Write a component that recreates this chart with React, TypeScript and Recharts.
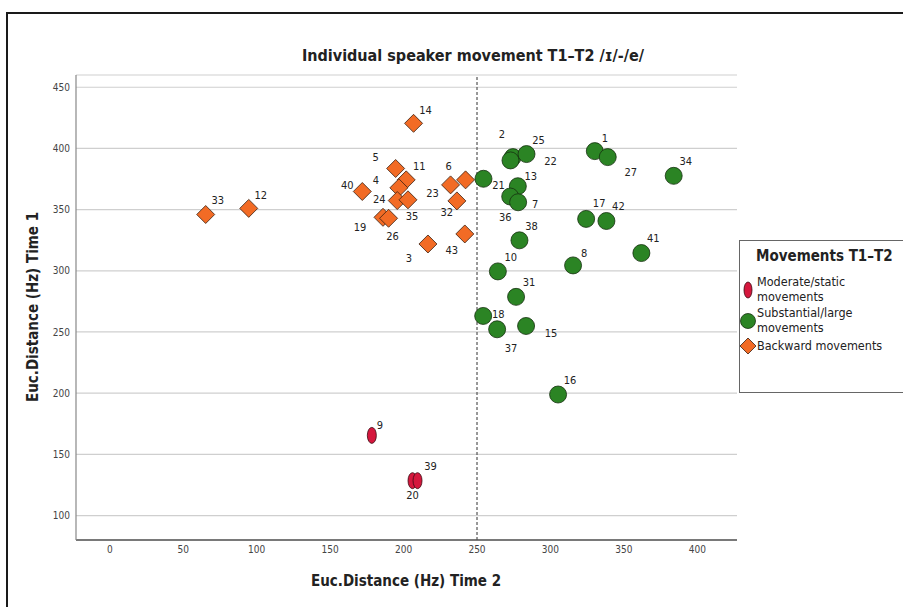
import React from "react";
import {
  ScatterChart,
  Scatter,
  XAxis,
  YAxis,
  CartesianGrid,
  ReferenceLine,
} from "recharts";

// Euclidean distances (Hz): t2 = Time 2 (x), t1 = Time 1 (y)
const moderate = [
  { id: 9, t2: 178.4, t1: 165.5 },
  { id: 20, t2: 206.1, t1: 128.5 },
  { id: 39, t2: 209.5, t1: 128.5 },
];

const substantial = [
  { id: 1, t2: 330.2, t1: 397.8 },
  { id: 27, t2: 339.0, t1: 392.9 },
  { id: 34, t2: 383.9, t1: 377.6 },
  { id: 17, t2: 324.3, t1: 342.4 },
  { id: 42, t2: 338.1, t1: 340.7 },
  { id: 41, t2: 361.9, t1: 314.5 },
  { id: 8, t2: 315.4, t1: 304.4 },
  { id: 2, t2: 274.4, t1: 392.9 },
  { id: 22, t2: 272.8, t1: 390.2 },
  { id: 25, t2: 283.7, t1: 395.4 },
  { id: 21, t2: 254.4, t1: 375.2 },
  { id: 13, t2: 277.8, t1: 369.1 },
  { id: 36, t2: 272.6, t1: 360.7 },
  { id: 7, t2: 278.0, t1: 356.0 },
  { id: 38, t2: 278.9, t1: 324.9 },
  { id: 10, t2: 264.2, t1: 299.5 },
  { id: 31, t2: 276.6, t1: 278.7 },
  { id: 18, t2: 254.2, t1: 263.1 },
  { id: 37, t2: 263.7, t1: 252.2 },
  { id: 15, t2: 283.4, t1: 254.9 },
  { id: 16, t2: 305.2, t1: 198.9 },
];

const backward = [
  { id: 33, t2: 65.3, t1: 346.0 },
  { id: 12, t2: 94.6, t1: 351.0 },
  { id: 14, t2: 206.8, t1: 420.5 },
  { id: 5, t2: 194.6, t1: 383.6 },
  { id: 11, t2: 201.8, t1: 374.3 },
  { id: 4, t2: 196.8, t1: 367.8 },
  { id: 40, t2: 171.9, t1: 364.8 },
  { id: 24, t2: 195.7, t1: 357.4 },
  { id: 35, t2: 203.0, t1: 358.0 },
  { id: 19, t2: 186.0, t1: 343.7 },
  { id: 26, t2: 189.8, t1: 342.9 },
  { id: 6, t2: 232.0, t1: 370.2 },
  { id: 23, t2: 242.2, t1: 374.3 },
  { id: 32, t2: 236.3, t1: 357.1 },
  { id: 43, t2: 241.7, t1: 330.1 },
  { id: 3, t2: 216.6, t1: 321.9 },
];

const xTicks = [0, 50, 100, 150, 200, 250, 300, 350, 400];
const yTicks = [100, 150, 200, 250, 300, 350, 400, 450];

// where each speaker number sits relative to its marker (px)
const labelOffsets: Record<number, [number, number]> = {
  14: [12, -13], 2: [-11, -23], 25: [12, -14], 22: [40, 1], 1: [10, -13],
  5: [-20, -11], 11: [13, -13], 6: [-2, -18], 4: [-23, -7], 40: [-15, -6],
  21: [15, 7], 13: [13, -10], 23: [-33, 14], 32: [-10, 12], 24: [-18, -1],
  35: [4, 17], 19: [-23, 10], 26: [4, 18], 7: [17, 2], 36: [-5, 21],
  38: [12, -14], 43: [-13, 17], 3: [-19, 15], 10: [13, -14], 8: [11, -12],
  17: [13, -15], 42: [12, -14], 27: [23, 15], 34: [12, -14], 41: [12, -15],
  33: [12, -14], 12: [12, -13], 31: [13, -14], 18: [15, -1], 37: [14, 19],
  15: [25, 8], 16: [12, -14], 9: [8, -10], 39: [13, -14], 20: [0, 15],
};

const RED = "#d5173d";
const GREEN = "#2b8424";
const ORANGE = "#f26b25";
const FONT = "'DejaVu Sans Condensed', 'Liberation Sans Narrow', 'DejaVu Sans', sans-serif";

function PointLabel({ cx, cy, id }: { cx: number; cy: number; id: number }) {
  const [dx, dy] = labelOffsets[id] || [10, -12];
  return (
    <text
      x={cx + dx}
      y={cy + dy}
      textAnchor="middle"
      dominantBaseline="central"
      fontSize={11}
      fontFamily={FONT}
      fill="#222"
    >
      {id}
    </text>
  );
}

const ellipseShape = (p: any) => (
  <g>
    <ellipse cx={p.cx} cy={p.cy} rx={4.5} ry={8} fill={RED} stroke="#3a0a12" strokeWidth={0.8} />
    <PointLabel cx={p.cx} cy={p.cy} id={p.payload.id} />
  </g>
);

const circleShape = (p: any) => (
  <g>
    <circle cx={p.cx} cy={p.cy} r={8.5} fill={GREEN} stroke="#15300f" strokeWidth={0.8} />
    <PointLabel cx={p.cx} cy={p.cy} id={p.payload.id} />
  </g>
);

const diamondShape = (p: any) => {
  const s = 9;
  return (
    <g>
      <path
        d={`M${p.cx},${p.cy - s}L${p.cx + s},${p.cy}L${p.cx},${p.cy + s}L${p.cx - s},${p.cy}Z`}
        fill={ORANGE}
        stroke="#3a2010"
        strokeWidth={0.8}
      />
      <PointLabel cx={p.cx} cy={p.cy} id={p.payload.id} />
    </g>
  );
};

export default function App() {
  return (
    <div
      style={{
        position: "absolute",
        left: 0,
        top: 0,
        width: 903,
        height: 607,
        overflow: "hidden",
        background: "#fff",
        fontFamily: FONT,
      }}
    >
      <div
        style={{
          position: "absolute",
          left: 6,
          top: 12,
          width: 930,
          height: 640,
          border: "2px solid #1a1a1a",
        }}
      />
      <div
        style={{
          position: "absolute",
          left: 0,
          width: 946,
          top: 46,
          textAlign: "center",
          fontSize: 16,
          fontWeight: 600,
          color: "#222",
        }}
      >
        Individual speaker movement T1–T2 /ɪ/-/e/
      </div>

      <ScatterChart
        width={903}
        height={607}
        margin={{ top: 75, right: 166, bottom: 37, left: 36 }}
        style={{ position: "absolute", left: 0, top: 0 }}
      >
        <CartesianGrid horizontal vertical={false} stroke="#cfcfcf" strokeWidth={1.2} />
        <XAxis
          type="number"
          dataKey="t2"
          domain={[-23, 427]}
          ticks={xTicks}
          height={30}
          tickLine={false}
          tickSize={4}
          axisLine={{ stroke: "#555", strokeWidth: 1.5 }}
          tick={{ fill: "#444", fontSize: 10, fontFamily: FONT }}
          allowDataOverflow
        />
        <YAxis
          type="number"
          dataKey="t1"
          domain={[80, 460]}
          ticks={yTicks}
          width={40}
          tickLine={false}
          tickSize={4}
          axisLine={{ stroke: "#888", strokeWidth: 1.2 }}
          tick={{ fill: "#444", fontSize: 10, fontFamily: FONT }}
          allowDataOverflow
        />
        <ReferenceLine x={250} stroke="#555" strokeWidth={1.2} strokeDasharray="3 2" />
        <Scatter data={backward} shape={diamondShape} isAnimationActive={false} />
        <Scatter data={substantial} shape={circleShape} isAnimationActive={false} />
        <Scatter data={moderate} shape={ellipseShape} isAnimationActive={false} />
      </ScatterChart>

      <div
        style={{
          position: "absolute",
          left: 0,
          width: 812,
          top: 572,
          textAlign: "center",
          fontSize: 15,
          fontWeight: 600,
          color: "#222",
        }}
      >
        Euc.Distance (Hz) Time 2
      </div>
      <div
        style={{
          position: "absolute",
          left: 33,
          top: 307,
          transform: "translate(-50%, -50%) rotate(-90deg)",
          whiteSpace: "nowrap",
          fontSize: 15,
          fontWeight: 600,
          color: "#222",
        }}
      >
        Euc.Distance (Hz) Time 1
      </div>

      {/* legend */}
      <div
        style={{
          position: "absolute",
          left: 739,
          top: 240,
          width: 200,
          height: 151,
          border: "1.5px solid #666",
          color: "#222",
        }}
      >
        <div style={{ position: "absolute", left: 16, top: 6, fontSize: 15, fontWeight: 600 }}>
          Movements T1–T2
        </div>
        <svg style={{ position: "absolute", left: 0, top: 0 }} width={20} height={120}>
          <ellipse cx={8} cy={49} rx={4} ry={8} fill={RED} stroke="#3a0a12" strokeWidth={0.8} />
          <circle cx={8} cy={80} r={7.5} fill={GREEN} stroke="#15300f" strokeWidth={0.8} />
          <path d="M8,97L16,105L8,113L0,105Z" fill={ORANGE} stroke="#3a2010" strokeWidth={0.8} />
        </svg>
        <div style={{ position: "absolute", left: 17, top: 33, fontSize: 12.5, lineHeight: "15px" }}>
          Moderate/static
          <br />
          movements
        </div>
        <div style={{ position: "absolute", left: 17, top: 64, fontSize: 12.5, lineHeight: "15px" }}>
          Substantial/large
          <br />
          movements
        </div>
        <div style={{ position: "absolute", left: 17, top: 97, fontSize: 12.5, lineHeight: "15px" }}>
          Backward movements
        </div>
      </div>
    </div>
  );
}
